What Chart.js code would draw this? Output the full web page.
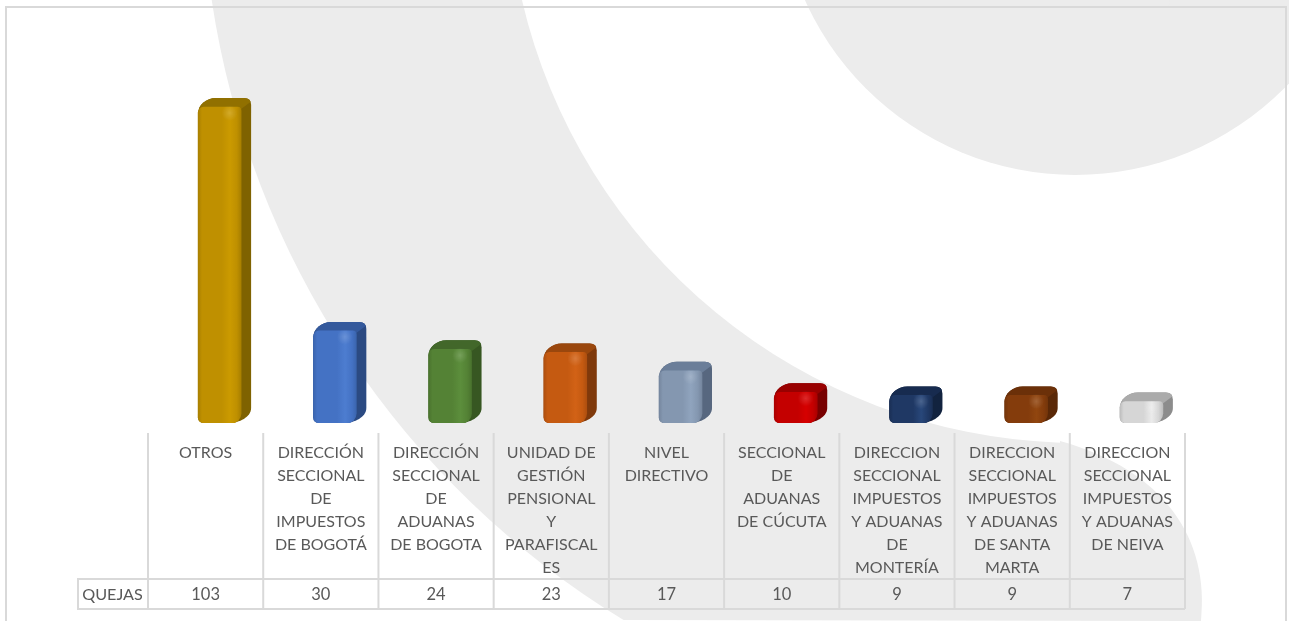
<!DOCTYPE html>
<html>
<head>
<meta charset="utf-8">
<style>html,body{margin:0;padding:0;background:#fff;overflow:hidden}canvas{display:block;filter:blur(0.35px)}</style>
<script src="https://cdn.jsdelivr.net/npm/chart.js@4"></script>
</head>
<body>
<canvas id="c" width="1289" height="621"></canvas>
<script>
const categories = [
  ["OTROS"],
  ["DIRECCIÓN","SECCIONAL","DE","IMPUESTOS","DE BOGOTÁ"],
  ["DIRECCIÓN","SECCIONAL","DE","ADUANAS","DE BOGOTA"],
  ["UNIDAD DE","GESTIÓN","PENSIONAL","Y","PARAFISCAL","ES"],
  ["NIVEL","DIRECTIVO"],
  ["SECCIONAL","DE","ADUANAS","DE CÚCUTA"],
  ["DIRECCION","SECCIONAL","IMPUESTOS","Y ADUANAS","DE","MONTERÍA"],
  ["DIRECCION","SECCIONAL","IMPUESTOS","Y ADUANAS","DE SANTA","MARTA"],
  ["DIRECCION","SECCIONAL","IMPUESTOS","Y ADUANAS","DE NEIVA"]
];
const seriesName = "QUEJAS";
const quejas = [103, 30, 24, 23, 17, 10, 9, 9, 7];

const frontColors = ["#bf9000","#4472c4","#548235","#c55a11","#8497b0","#c40000","#1f3864","#843c0c","#d6d6d6"];
const lightColors = ["#cb9a00","#4d7dd0","#5c8e3c","#d26216","#90a4be","#d60000","#28477a","#91460f","#ebebeb"];
const edgeColors  = ["#a87f00","#3b65ae","#4a732e","#ae4f0f","#75869e","#ab0000","#1a2f55","#74350a","#bdbdbd"];
const capColors   = ["#917000","#34599c","#42672a","#9a470d","#6b7e99","#990000","#172b4f","#6b3009","#ababab"];
const sideColors  = ["#7f6200","#2b4a82","#375722","#7f390b","#57677f","#780000","#12233f","#5a2807","#8c8c8c"];

const FONT = "Lato, Calibri, sans-serif";
const TEXT = "#595959";
const LINE = "#d9d9d9";
const GREY = "#ececec";

const decor = {
  id: "decor",
  beforeDraw(chart) {
    const g = chart.ctx;
    g.save();
    g.fillStyle = "#fff";
    g.fillRect(0, 0, 1289, 621);
    g.fillStyle = GREY;
    // large crescent
    const cx = 1080, cy = -130, ro = 878, ri = 573;
    g.beginPath();
    g.arc(cx, cy, ro, Math.atan2(0 - cy, 212 - cx), Math.atan2(621 - cy, 623 - cx), true);
    g.lineTo(1201, 621);
    g.bezierCurveTo(1210, 540, 1165, 470, 1060, 441);
    g.arc(cx, cy, ri, Math.atan2(441 - cy, 1060 - cx), Math.atan2(0 - cy, 522 - cx), false);
    g.closePath();
    g.fill();
    // upper circle
    g.beginPath();
    g.arc(1075, -121, 296, 0, Math.PI * 2);
    g.fill();
    // band across the top right, with the small white gap
    g.beginPath();
    g.moveTo(1160, 0); g.lineTo(1170, 0); g.lineTo(1169, 5); g.lineTo(1160, 6);
    g.closePath();
    g.moveTo(1185, 0); g.lineTo(1289, 0); g.lineTo(1289, 6); g.lineTo(1169, 6);
    g.closePath();
    g.fill();
    // frame
    g.strokeStyle = LINE;
    g.lineWidth = 2;
    g.beginPath();
    g.moveTo(6, 621); g.lineTo(6, 7); g.lineTo(1286, 7); g.lineTo(1286, 621);
    g.stroke();
    // data-table grid
    const x = chart.scales.x;
    const half = (x.getPixelForTick(1) - x.getPixelForTick(0)) / 2;
    g.beginPath();
    for (let i = 0; i < categories.length; i++) {
      const p = x.getPixelForTick(i) - half;
      g.moveTo(p, 433); g.lineTo(p, 609);
    }
    const end = x.getPixelForTick(categories.length - 1) + half;
    g.moveTo(end, 433); g.lineTo(end, 609);
    g.moveTo(78, 579); g.lineTo(end, 579);
    g.moveTo(78, 609); g.lineTo(end, 609);
    g.moveTo(78, 578); g.lineTo(78, 610);
    g.stroke();
    g.restore();
  },
  beforeDatasetsDraw(chart) {
    const g = chart.ctx;
    g.save();
    g.translate(14, 0);
    g.filter = "blur(0.6px)";
    const bars = chart.getDatasetMeta(0).data;
    bars.forEach((el, i) => {
      const L = el.x - 21.5, R = el.x + 21.5, T = el.y, B = el.base, d = 10, h = 9;
      g.save();
      g.beginPath();
      g.moveTo(L, T + 6);
      g.bezierCurveTo(L, T - 2, L + 8, T - h, L + 18, T - h);
      g.lineTo(R + d - 7, T - h);
      g.quadraticCurveTo(R + d, T - h, R + d, T - h + 7);
      g.lineTo(R + d, B - h - 6);
      g.bezierCurveTo(R + d, B - 6, R - 2, B, R - 12, B);
      g.lineTo(L + 6, B);
      g.quadraticCurveTo(L, B, L, B - 6);
      g.closePath();
      g.fillStyle = sideColors[i];
      g.fill();
      g.clip();
      g.beginPath();
      g.moveTo(L - 2, T + 2);
      g.lineTo(L + 12, T - h - 2);
      g.lineTo(R + d + 2, T - h - 2);
      g.lineTo(R + d + 2, T - h + 2);
      g.lineTo(R, T + 2);
      g.closePath();
      g.fillStyle = capColors[i];
      g.fill();
      g.restore();
    });
  },
  afterDatasetsDraw(chart) {
    const g = chart.ctx;
    chart.getDatasetMeta(0).data.forEach((el, i) => {
      const sx = el.x + 10, sy = el.y + 6;
      const rg = g.createRadialGradient(sx, sy, 0, sx, sy, 8);
      rg.addColorStop(0, "rgba(255,255,255,0.16)");
      rg.addColorStop(1, "rgba(255,255,255,0)");
      g.fillStyle = rg;
      g.fillRect(sx - 8, sy - 8, 16, 16);
    });
    g.restore();
  },
  afterDraw(chart) {
    const g = chart.ctx, x = chart.scales.x;
    g.save();
    g.fillStyle = TEXT;
    g.textAlign = "center";
    g.textBaseline = "middle";
    g.font = "16.2px " + FONT;
    g.fillText(seriesName, 112.5, 594.5);
    g.font = "16.5px " + FONT;
    quejas.forEach((v, i) => g.fillText(String(v), x.getPixelForTick(i), 594.5));
    g.restore();
  }
};

new Chart(document.getElementById("c"), {
  type: "bar",
  plugins: [decor],
  data: {
    labels: categories,
    datasets: [{
      label: seriesName,
      data: quejas,
      barThickness: 43,
      borderSkipped: false,
      borderWidth: 0,
      borderRadius: { topLeft: 6, topRight: 4, bottomLeft: 6, bottomRight: 10 },
      backgroundColor(ctx) {
        const i = ctx.dataIndex, sc = ctx.chart.scales.x;
        if (i === undefined || !sc) return frontColors[0];
        const c = sc.getPixelForValue(i);
        if (!Number.isFinite(c)) return frontColors[i];
        const gr = ctx.chart.ctx.createLinearGradient(c - 21.5, 0, c + 21.5, 0);
        gr.addColorStop(0, edgeColors[i]);
        gr.addColorStop(0.09, frontColors[i]);
        gr.addColorStop(0.55, frontColors[i]);
        gr.addColorStop(0.74, lightColors[i]);
        gr.addColorStop(0.9, frontColors[i]);
        gr.addColorStop(1, edgeColors[i]);
        return gr;
      }
    }]
  },
  options: {
    responsive: false,
    animation: false,
    devicePixelRatio: 1,
    layout: { padding: { left: 148, right: 104, top: 85.5, bottom: 0 } },
    plugins: { legend: { display: false }, tooltip: { enabled: false }, title: { display: false } },
    scales: {
      y: { display: false, min: 0, max: 110 },
      x: {
        afterFit(s) { s.height = 198; },
        border: { display: false },
        grid: { display: false, drawTicks: false },
        ticks: {
          autoSkip: false, maxRotation: 0, minRotation: 0, padding: 18.5,
          color: TEXT,
          font: { family: FONT, size: 16, lineHeight: 23 / 16 }
        }
      }
    }
  }
});
</script>
</body>
</html>
